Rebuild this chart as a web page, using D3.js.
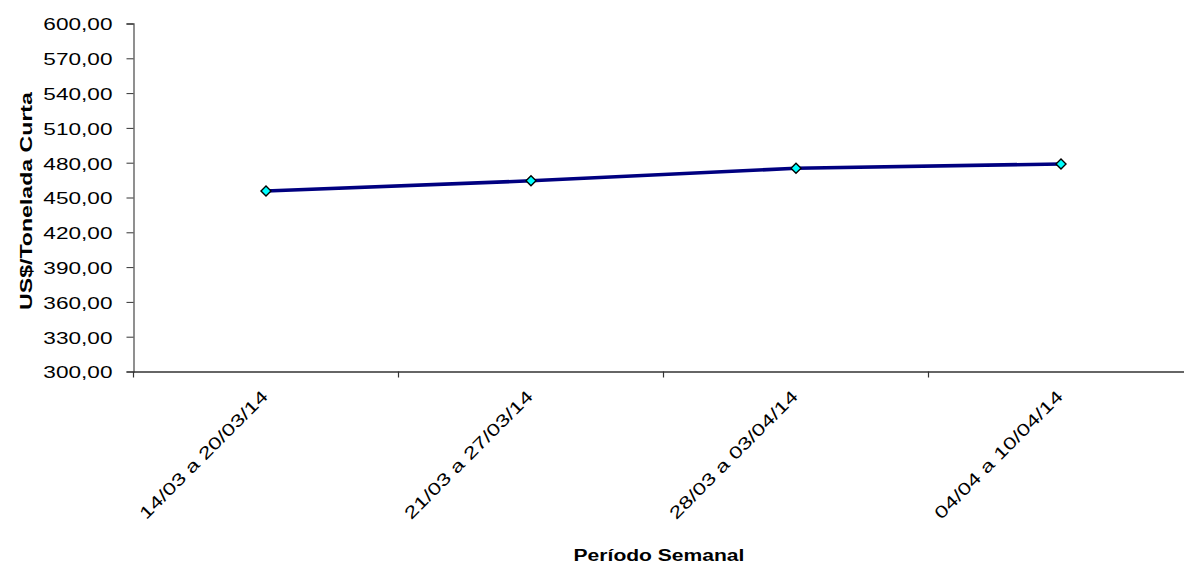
<!DOCTYPE html>
<html><head><meta charset="utf-8">
<script src="https://cdn.jsdelivr.net/npm/d3@7"></script>
<style>body{margin:0;background:#fff}svg{display:block}text{font-family:"Liberation Sans",Arial,sans-serif}</style>
</head><body><svg id="c" width="1184" height="567"></svg>
<script>
const categories = ["14/03 a 20/03/14","21/03 a 27/03/14","28/03 a 03/04/14","04/04 a 10/04/14"];
const values = [455.6, 464.4, 475.2, 478.9];
const yTicks = [300,330,360,390,420,450,480,510,540,570,600];
const yTitle = "US$/Tonelada Curta";
const xTitle = "Período Semanal";

const svg = d3.select("#c");
const L = 133.5, R = 1193.5, T = 23.5, B = 371.5;
const x = d3.scaleBand().domain(categories).range([L, R]);
const y = d3.scaleLinear().domain([300, 600]).range([B, T]);
const fmt = v => d3.format(".2f")(v).replace(".", ",");

const yAx = svg.append("g").attr("transform", `translate(${L},0)`)
  .call(d3.axisLeft(y).tickValues(yTicks).tickFormat(fmt).tickSizeOuter(0).tickSize(7).tickPadding(14));
yAx.select(".domain").attr("stroke", "#555").attr("stroke-width", 1.3);
yAx.selectAll(".tick line").attr("stroke", "#333");
yAx.selectAll("text").attr("font-size", 17).attr("fill", "#000")
  .attr("x", 0).attr("dy", "0.38em").attr("transform", "translate(-21,0) scale(1.33,1)");

const xAx = svg.append("g").attr("transform", `translate(0,${B})`)
  .call(d3.axisBottom(x).tickSize(0).tickFormat(""));
xAx.select(".domain").attr("stroke", "#333").attr("stroke-width", 1.3);
svg.append("g").selectAll("line").data(categories).join("line")
  .attr("x1", d => x(d)).attr("x2", d => x(d))
  .attr("y1", B).attr("y2", B + 6).attr("stroke", "#333").attr("stroke-width", 1.2);

svg.append("g").selectAll("text").data(categories).join("text")
  .attr("transform", d => `translate(${x(d) + x.bandwidth()/2 + 3},${B + 26}) rotate(-45) scale(1.36,1)`)
  .attr("text-anchor", "end").attr("font-size", 17).attr("fill", "#000").text(d => d);

const line = d3.line().x((d,i) => x(categories[i]) + x.bandwidth()/2).y(d => y(d));
svg.append("path").datum(values).attr("d", line).attr("fill", "none")
  .attr("stroke", "#000080").attr("stroke-width", 3.6);

svg.append("g").selectAll("path").data(values).join("path")
  .attr("transform", (d,i) => `translate(${x(categories[i]) + x.bandwidth()/2},${y(d)})`)
  .attr("d", d3.symbol(d3.symbolDiamond2, 64))
  .attr("fill", "#00FFFF").attr("stroke", "#000").attr("stroke-width", 1.4);

svg.append("text").attr("transform", `translate(32,201) rotate(-90) scale(1.36,1)`)
  .attr("text-anchor", "middle").attr("font-size", 17).attr("font-weight", "bold").text(yTitle);
svg.append("text").attr("transform", `translate(659,561) scale(1.24,1)`).attr("text-anchor", "middle")
  .attr("font-size", 17).attr("font-weight", "bold").text(xTitle);
</script></body></html>
